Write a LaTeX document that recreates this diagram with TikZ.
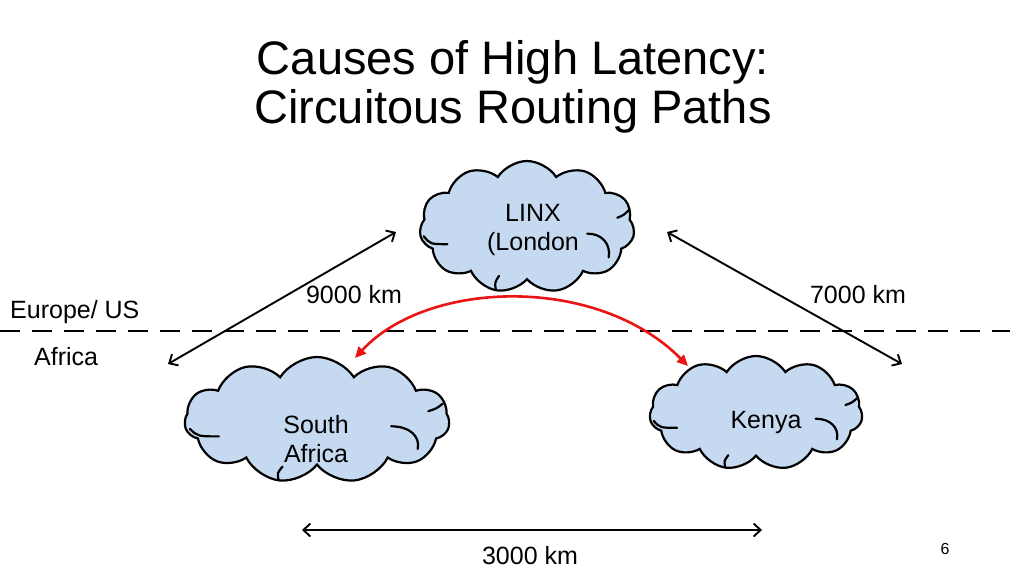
\documentclass[tikz,border=0pt]{standalone}
\usepackage{fontspec}
\setmainfont{Liberation Sans}
\usetikzlibrary{shapes.symbols,arrows.meta}
\definecolor{cloudfill}{RGB}{197,217,240}
\definecolor{arcred}{RGB}{235,20,20}
% interior strokes of a cloud, in box coordinates (0..1, y downwards)
\newcommand\mycloudlines[4]{%
  \begin{scope}[shift={(#1-#3/2,#2-#4/2)}, xscale=#3, yscale=#4]
    \draw[cloudline] (0.02,0.57) .. controls (0.05,0.63) .. (0.13,0.63);
    \draw[cloudline] (0.78,0.55) .. controls (0.85,0.55) and (0.89,0.63) .. (0.88,0.73);
    \draw[cloudline] (0.92,0.43) .. controls (0.95,0.41) .. (0.975,0.37);
    \draw[cloudline] (0.355,0.975) .. controls (0.35,0.92) .. (0.37,0.87);
  \end{scope}}
\begin{document}
\begin{tikzpicture}[x=1pt,y=-1pt,
  cloudnode/.style={cloud, cloud puffs=11, cloud puff arc=115, cloud ignores aspect, draw=black, line width=2.2pt, fill=cloudfill, inner sep=0pt},
  cloudline/.style={line width=2.2pt, line cap=round},
  lbl/.style={font=\fontsize{25}{29}\selectfont, text=black, inner sep=0pt, align=center},
  barb/.tip={Straight Barb[length=7pt,width=13pt,line width=1.9pt]},
  dist/.style={barb-barb, line width=1.9pt},
  redarc/.style={{Triangle[length=11pt,width=10pt]}-{Triangle[length=11pt,width=10pt]}, line width=2.6pt, draw=arcred}]
\useasboundingbox (0,0) rectangle (1024,576);
\fill[white] (0,0) rectangle (1024,576);

% title
\node[font=\fontsize{47}{49}\selectfont, align=center, inner sep=0pt] (title) at (513,87) {Causes of High Latency:\\Circuitous Routing Paths};

% divider
\coordinate (dl) at (0,331);
\coordinate (dr) at (1010,331);
\draw[line width=1.9pt, dash pattern=on 20pt off 12pt] (dl) -- (dr);
\node[lbl, anchor=west] (eu) at (10,312) {Europe/ US};
\node[lbl, anchor=west] (af) at (34,357) {Africa};

% clouds
\node[cloudnode, minimum width=215pt, minimum height=132pt] (linx) at (527,227) {};
\mycloudlines{527}{227}{215}{132}
\node[cloudnode, minimum width=265pt, minimum height=126pt] (sa) at (317,420) {};
\mycloudlines{317}{420}{265}{126}
\node[cloudnode, minimum width=213pt, minimum height=114pt] (ke) at (756,413) {};
\mycloudlines{756}{413}{213}{114}

\node[lbl] (linxt) at (533,230) {LINX\\(London};
\node[lbl] (sat) at (316,439) {South\\Africa};
\node[lbl] (ket) at (766,422) {Kenya};

% distance arrows
\coordinate (l1) at (168,364);
\coordinate (l2) at (396,232);
\draw[dist] (l1) -- (l2);
\node[lbl] (d9) at (354,295) {9000 km};

\coordinate (r1) at (667,232);
\coordinate (r2) at (902,364);
\draw[dist] (r1) -- (r2);
\node[lbl] (d7) at (858,295) {7000 km};

\coordinate (b1) at (302,530);
\coordinate (b2) at (762,530);
\draw[dist] (b1) -- (b2);
\node[lbl] (d3) at (530,556) {3000 km};

% red route
\coordinate (ra) at (355,358);
\coordinate (rb) at (688,366);
\draw[redarc] (ra) .. controls (428,279) and (598,275) .. (rb);

\node[font=\fontsize{16}{18}\selectfont, inner sep=0pt] (pg) at (945,549) {6};
\end{tikzpicture}
\end{document}
